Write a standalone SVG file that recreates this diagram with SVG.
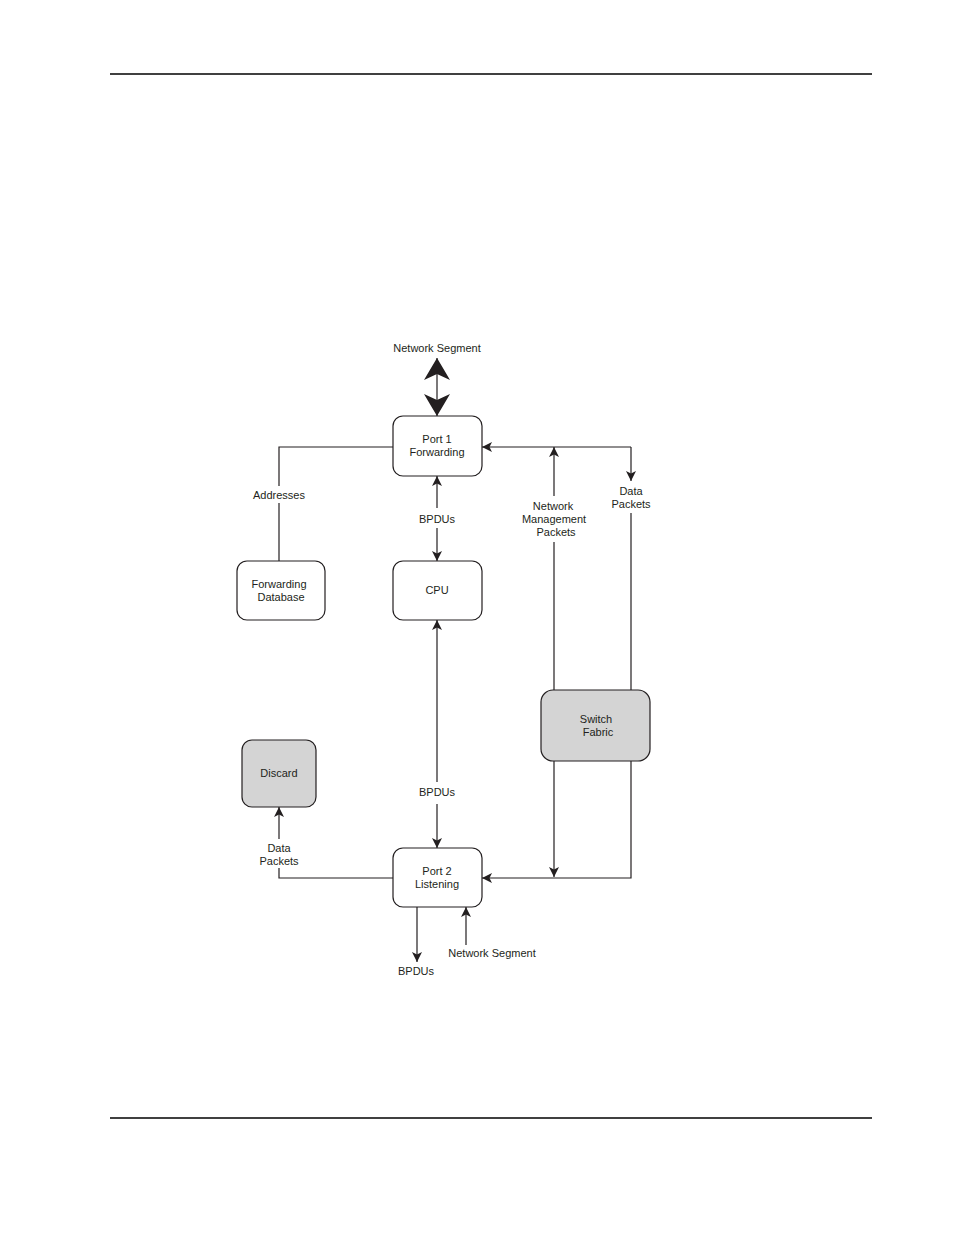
<svg xmlns="http://www.w3.org/2000/svg" width="954" height="1235" viewBox="0 0 954 1235">
<defs>
<style>
text{font-family:"Liberation Sans",Arial,sans-serif;font-size:11px;fill:#231f20;text-anchor:middle}
.box{fill:#fff;stroke:#231f20;stroke-width:1.2}
.gray{fill:#d4d4d4;stroke:#231f20;stroke-width:1.2}
.ln{fill:none;stroke:#231f20;stroke-width:1.2}
.rule{stroke:#000;stroke-width:1.3}
</style>
<marker id="ah" viewBox="0 0 10 10" refX="10" refY="5" markerWidth="10" markerHeight="10" markerUnits="userSpaceOnUse" orient="auto">
<path d="M0,0 L10,5 L0,10 L2.5,5 Z" fill="#231f20"/>
</marker>
<marker id="big" viewBox="0 0 22 26" refX="22" refY="13" markerWidth="22" markerHeight="26" markerUnits="userSpaceOnUse" orient="auto">
<path d="M0,0 Q12,7 22,13 Q12,19 0,26 L6,13 Z" fill="#231f20"/>
</marker>
</defs>
<line class="rule" x1="110" y1="74" x2="872" y2="74"/>
<line class="rule" x1="110" y1="1118" x2="872" y2="1118"/>

<g id="connectors">
<line class="ln" x1="437" y1="387" x2="437" y2="358" marker-end="url(#big)"/>
<line class="ln" x1="437" y1="387" x2="437" y2="416" marker-end="url(#big)"/>
<polyline class="ln" points="393,447 279,447 279,486"/>
<line class="ln" x1="279" y1="503" x2="279" y2="561"/>
<line class="ln" x1="437" y1="508" x2="437" y2="476" marker-end="url(#ah)"/>
<line class="ln" x1="437" y1="528" x2="437" y2="561" marker-end="url(#ah)"/>
<line class="ln" x1="631" y1="447" x2="482" y2="447" marker-end="url(#ah)"/>
<line class="ln" x1="554" y1="496" x2="554" y2="447" marker-end="url(#ah)"/>
<line class="ln" x1="554" y1="690" x2="554" y2="542"/>
<line class="ln" x1="631" y1="447" x2="631" y2="481" marker-end="url(#ah)"/>
<line class="ln" x1="631" y1="513" x2="631" y2="690"/>
<line class="ln" x1="437" y1="782" x2="437" y2="620" marker-end="url(#ah)"/>
<line class="ln" x1="437" y1="804" x2="437" y2="848" marker-end="url(#ah)"/>
<line class="ln" x1="554" y1="761" x2="554" y2="877" marker-end="url(#ah)"/>
<polyline class="ln" points="631,761 631,878 482,878" marker-end="url(#ah)"/>
<polyline class="ln" points="393,878 279,878 279,868"/>
<line class="ln" x1="279" y1="839" x2="279" y2="807" marker-end="url(#ah)"/>
<line class="ln" x1="417" y1="907" x2="417" y2="962" marker-end="url(#ah)"/>
<line class="ln" x1="466" y1="945" x2="466" y2="907" marker-end="url(#ah)"/>
</g>

<g id="port1"><rect class="box" x="393" y="416" width="89" height="60" rx="10"/><text x="437" y="443">Port 1</text><text x="437" y="456">Forwarding</text></g>
<g id="fdb"><rect class="box" x="237" y="561" width="88" height="59" rx="10"/><text x="279" y="588">Forwarding</text><text x="281" y="601">Database</text></g>
<g id="cpu"><rect class="box" x="393" y="561" width="89" height="59" rx="10"/><text x="437" y="594">CPU</text></g>
<g id="switch"><rect class="gray" x="541" y="690" width="109" height="71" rx="12"/><text x="596" y="723">Switch</text><text x="598" y="736">Fabric</text></g>
<g id="discard"><rect class="gray" x="242" y="740" width="74" height="67" rx="10"/><text x="279" y="777">Discard</text></g>
<g id="port2"><rect class="box" x="393" y="848" width="89" height="59" rx="10"/><text x="437" y="875">Port 2</text><text x="437" y="888">Listening</text></g>

<g id="labels">
<text x="437" y="352">Network Segment</text>
<text x="279" y="499">Addresses</text>
<text x="437" y="523">BPDUs</text>
<text x="553" y="510">Network</text>
<text x="554" y="523">Management</text>
<text x="556" y="536">Packets</text>
<text x="631" y="495">Data</text>
<text x="631" y="508">Packets</text>
<text x="437" y="796">BPDUs</text>
<text x="279" y="852">Data</text>
<text x="279" y="865">Packets</text>
<text x="416" y="975">BPDUs</text>
<text x="492" y="957">Network Segment</text>
</g>
</svg>
